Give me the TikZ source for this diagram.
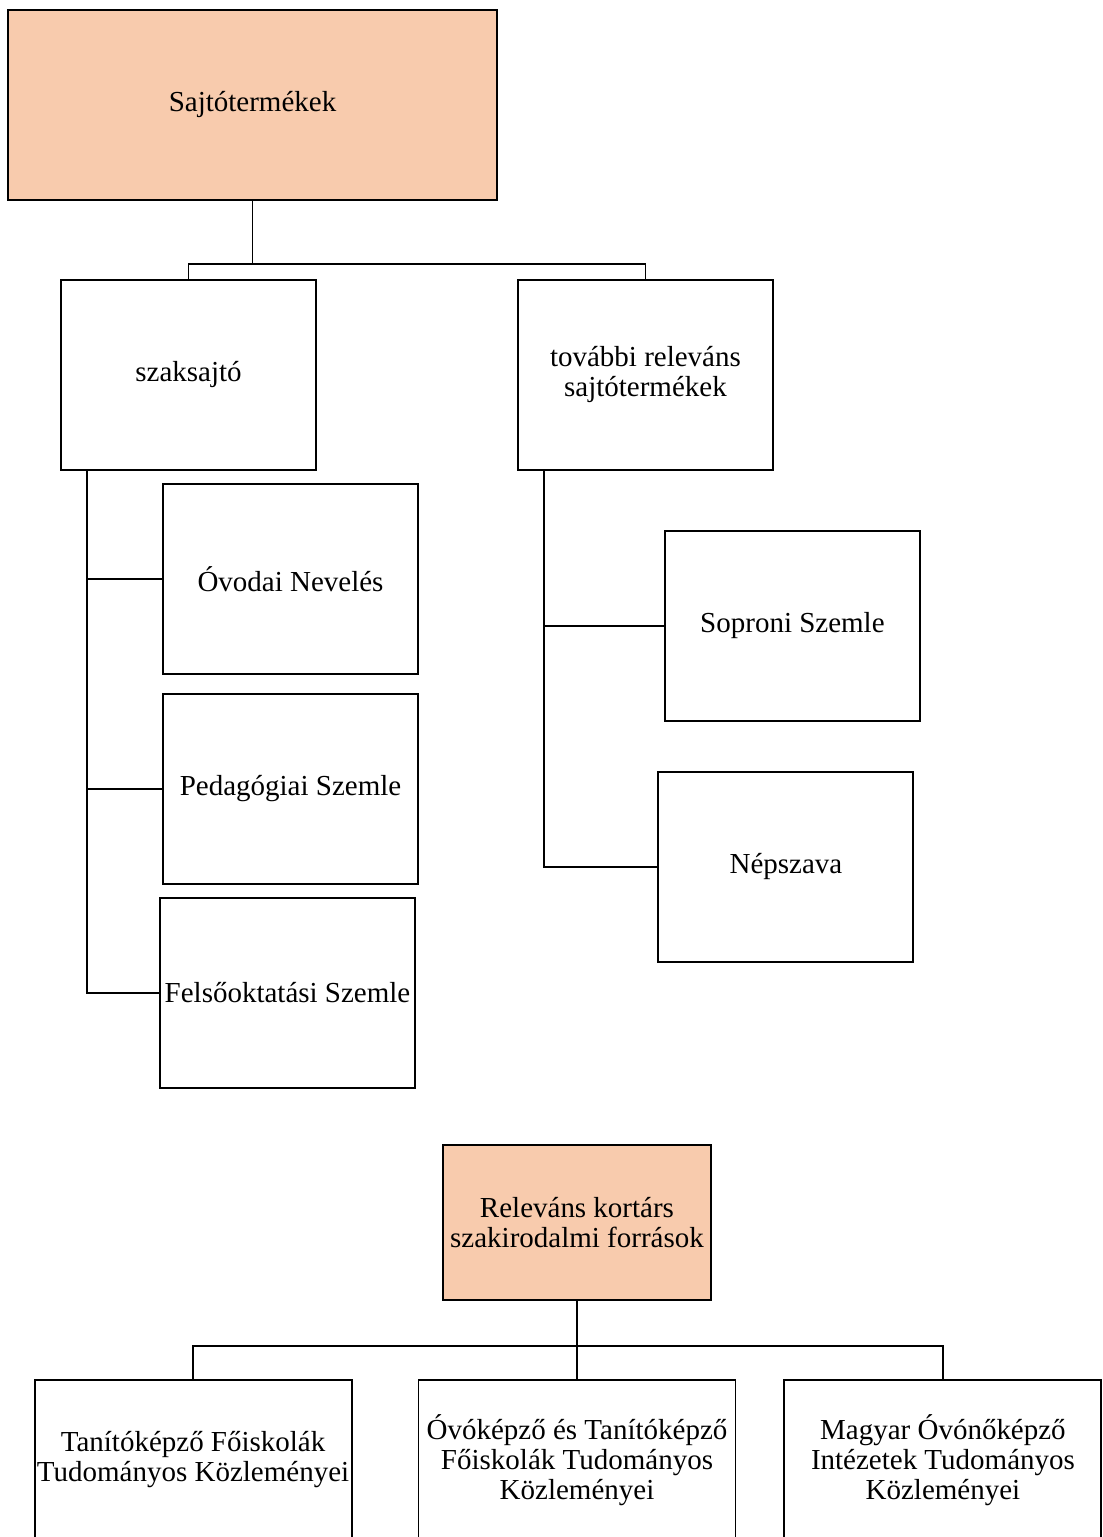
\documentclass[tikz,border=0pt]{standalone}
\usepackage{fontspec}
\setmainfont{Liberation Serif}
\usepackage{xcolor}
\usepackage{tikz}
\usetikzlibrary{positioning}
\definecolor{peach}{HTML}{F8CBAD}

\begin{document}
\begin{tikzpicture}[
        node distance=1.5cm,
        headbox/.style={rectangle, minimum width=9.78cm, minimum height=3.8cm, align=center, draw=black, line width=1.1pt, fill=peach, font=\fontsize{16.5}{17.1}\selectfont},
        itembox/.style={rectangle, minimum width=5.1cm, minimum height=3.8cm, inner sep=2pt, align=center, draw=black, line width=1.1pt, fill=white, font=\fontsize{16.5}{17.1}\selectfont},
        widebox/.style={itembox, minimum width=6.34cm, minimum height=3.2cm, inner xsep=1pt},
        link/.style={line width=1pt, draw=black}
    ]
        \useasboundingbox (0,0) rectangle (22.04,-30.74);

        % ===== Sajtótermékek =====
        \node (top) [headbox] at (5.05,-2.1) {Sajtótermékek};
        \node (szaksajto) [itembox, below right=1.56cm and 1.06cm of top.south west] {szaksajtó};
        \node (tovabbi) [itembox, right=4.0cm of szaksajto] {további releváns\\sajtótermékek};
        \node (ovodai) [itembox, below right=0.24cm and 2.04cm of szaksajto.south west] {Óvodai Nevelés};
        \node (pedagogiai) [itembox, below=0.36cm of ovodai] {Pedagógiai Szemle};
        \node (felso) [itembox, below=0.24cm of pedagogiai, xshift=-0.06cm] {Felsőoktatási Szemle};
        \node (soproni) [itembox, below right=1.18cm and 2.94cm of tovabbi.south west] {Soproni Szemle};
        \node (nepszava) [itembox, below=0.98cm of soproni, xshift=-0.13cm] {Népszava};

        % ===== szakirodalom =====
        \node (relevans) [headbox, minimum width=5.36cm, minimum height=3.1cm] at (11.54,-24.45) {Releváns kortárs\\szakirodalmi források};
        \node (ovokepzo) [widebox, below=1.56cm of relevans] {Óvóképző és Tanítóképző\\Főiskolák Tudományos\\Közleményei};
        \node (tanito) [widebox, left=1.3cm of ovokepzo] {Tanítóképző Főiskolák\\Tudományos Közleményei};
        \node (magyar) [widebox, right=0.94cm of ovokepzo] {Magyar Óvónőképző\\Intézetek Tudományos\\Közleményei};

        % ===== vonalak =====
        \draw [link] (top.south) -- ++(0,-1.26) -| (szaksajto.north);
        \draw [link] (top.south) -- ++(0,-1.26) -| (tovabbi.north);
        \coordinate (spineL) at ([xshift=0.54cm]szaksajto.south west);
        \draw [link] (spineL) |- (ovodai.west);
        \draw [link] (spineL) |- (pedagogiai.west);
        \draw [link] (spineL) |- (felso.west);
        \coordinate (spineR) at ([xshift=0.54cm]tovabbi.south west);
        \draw [link] (spineR) |- (soproni.west);
        \draw [link] (spineR) |- (nepszava.west);
        \draw [link] (relevans.south) -- ++(0,-0.9) -| (tanito.north);
        \draw [link] (relevans.south) -- (ovokepzo.north);
        \draw [link] (relevans.south) -- ++(0,-0.9) -| (magyar.north);

    \end{tikzpicture}
\end{document}
